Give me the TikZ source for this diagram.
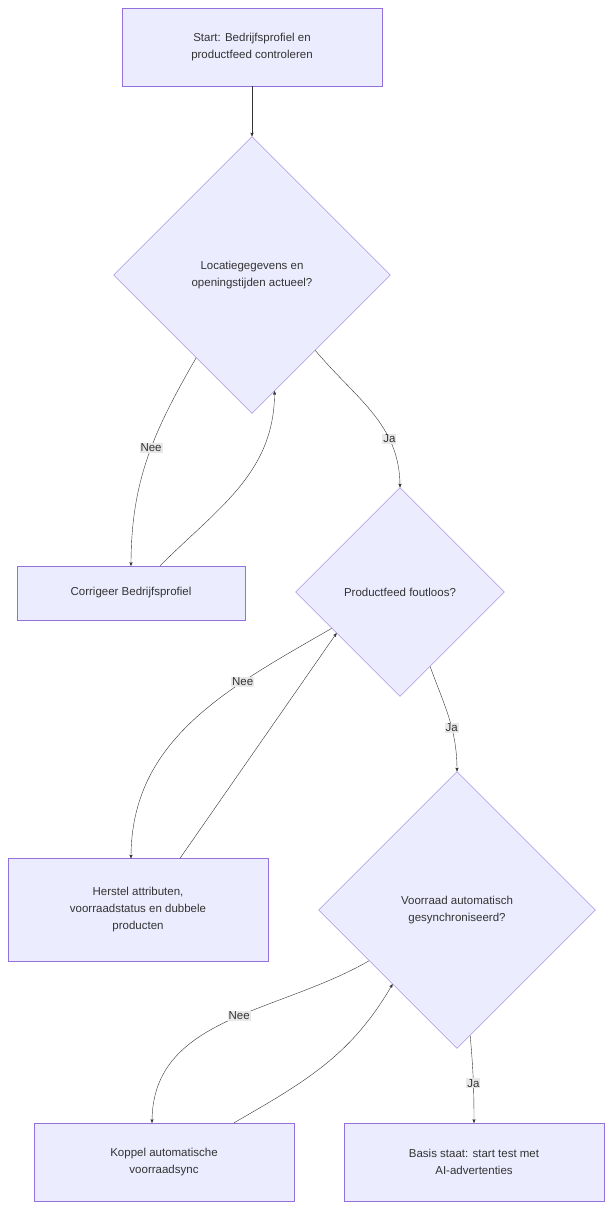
\documentclass[tikz,border=0pt]{standalone}
\usepackage{fontspec}
\setmainfont{Liberation Sans}
\usepackage{xcolor}
\usetikzlibrary{shapes.geometric}
\usetikzlibrary{arrows}
\definecolor{boxfill}{HTML}{ECECFF}
\definecolor{boxline}{HTML}{9370DB}
\definecolor{lblfill}{HTML}{E8E8E8}
\definecolor{ink}{HTML}{333333}
\begin{document}
\begin{tikzpicture}[x=1pt, y=-1pt, font=\fontsize{11.5}{17}\selectfont, text=ink,
        box/.style={draw=boxline, fill=boxfill, rectangle, align=center},
        ask/.style={draw=boxline, fill=boxfill, diamond, inner sep=0pt, align=center},
        flow/.style={draw=ink, -stealth'},
        lbl/.style={fill=lblfill, inner sep=1pt}]
        \useasboundingbox (0, 0) rectangle (612, 1210);

        \node[box, minimum width=260, minimum height=78] (start) at (252, 47)
            {Start: Bedrijfsprofiel en\\productfeed controleren};
        \node[ask, minimum width=277, minimum height=277] (loc) at (252, 275)
            {Locatiegegevens en\\openingstijden actueel?};
        \node[box, minimum width=228, minimum height=54] (fixprof) at (131, 593)
            {Corrigeer Bedrijfsprofiel};
        \node[ask, minimum width=209, minimum height=209] (feed) at (400, 592)
            {Productfeed foutloos?};
        \node[box, minimum width=260, minimum height=103] (fixfeed) at (138, 910)
            {Herstel attributen,\\voorraadstatus en dubbele\\producten};
        \node[ask, minimum width=277, minimum height=277] (sync) at (457, 910)
            {Voorraad automatisch\\gesynchroniseerd?};
        \node[box, minimum width=260, minimum height=78] (fixsync) at (164, 1162)
            {Koppel automatische\\voorraadsync};
        \node[box, minimum width=260, minimum height=78] (done) at (474, 1162)
            {Basis staat: start test met\\AI-advertenties};

        \draw[flow] (start) -- (loc);
        \draw[flow] (loc.236) to[out=-120, in=90] node[lbl, pos=0.45] {Nee} (fixprof.north);
        \draw[flow] ([xshift=29]fixprof.north) to[out=45, in=-90] (loc.281);
        \draw[flow] (loc.310) to[out=-50, in=90] node[lbl, pos=0.7] {Ja} (feed.north);
        \draw[flow] (feed.208) to[out=-150, in=90] node[lbl, pos=0.3] {Nee} ([xshift=-7]fixfeed.north);
        \draw[flow] ([xshift=42]fixfeed.north) -- (feed.213);
        \draw[flow] (feed.292) to[out=-70, in=90] node[lbl, pos=0.6] {Ja} (sync.north);
        \draw[flow] (sync.210) to[out=-150, in=90] node[lbl, pos=0.45] {Nee} ([xshift=-12]fixsync.north);
        \draw[flow] ([xshift=70]fixsync.north) to[out=30, in=-120] (sync.229);
        \draw[flow] (sync.276) to[out=-85, in=90] node[lbl, pos=0.55] {Ja} (done.north);
\end{tikzpicture}
\end{document}
